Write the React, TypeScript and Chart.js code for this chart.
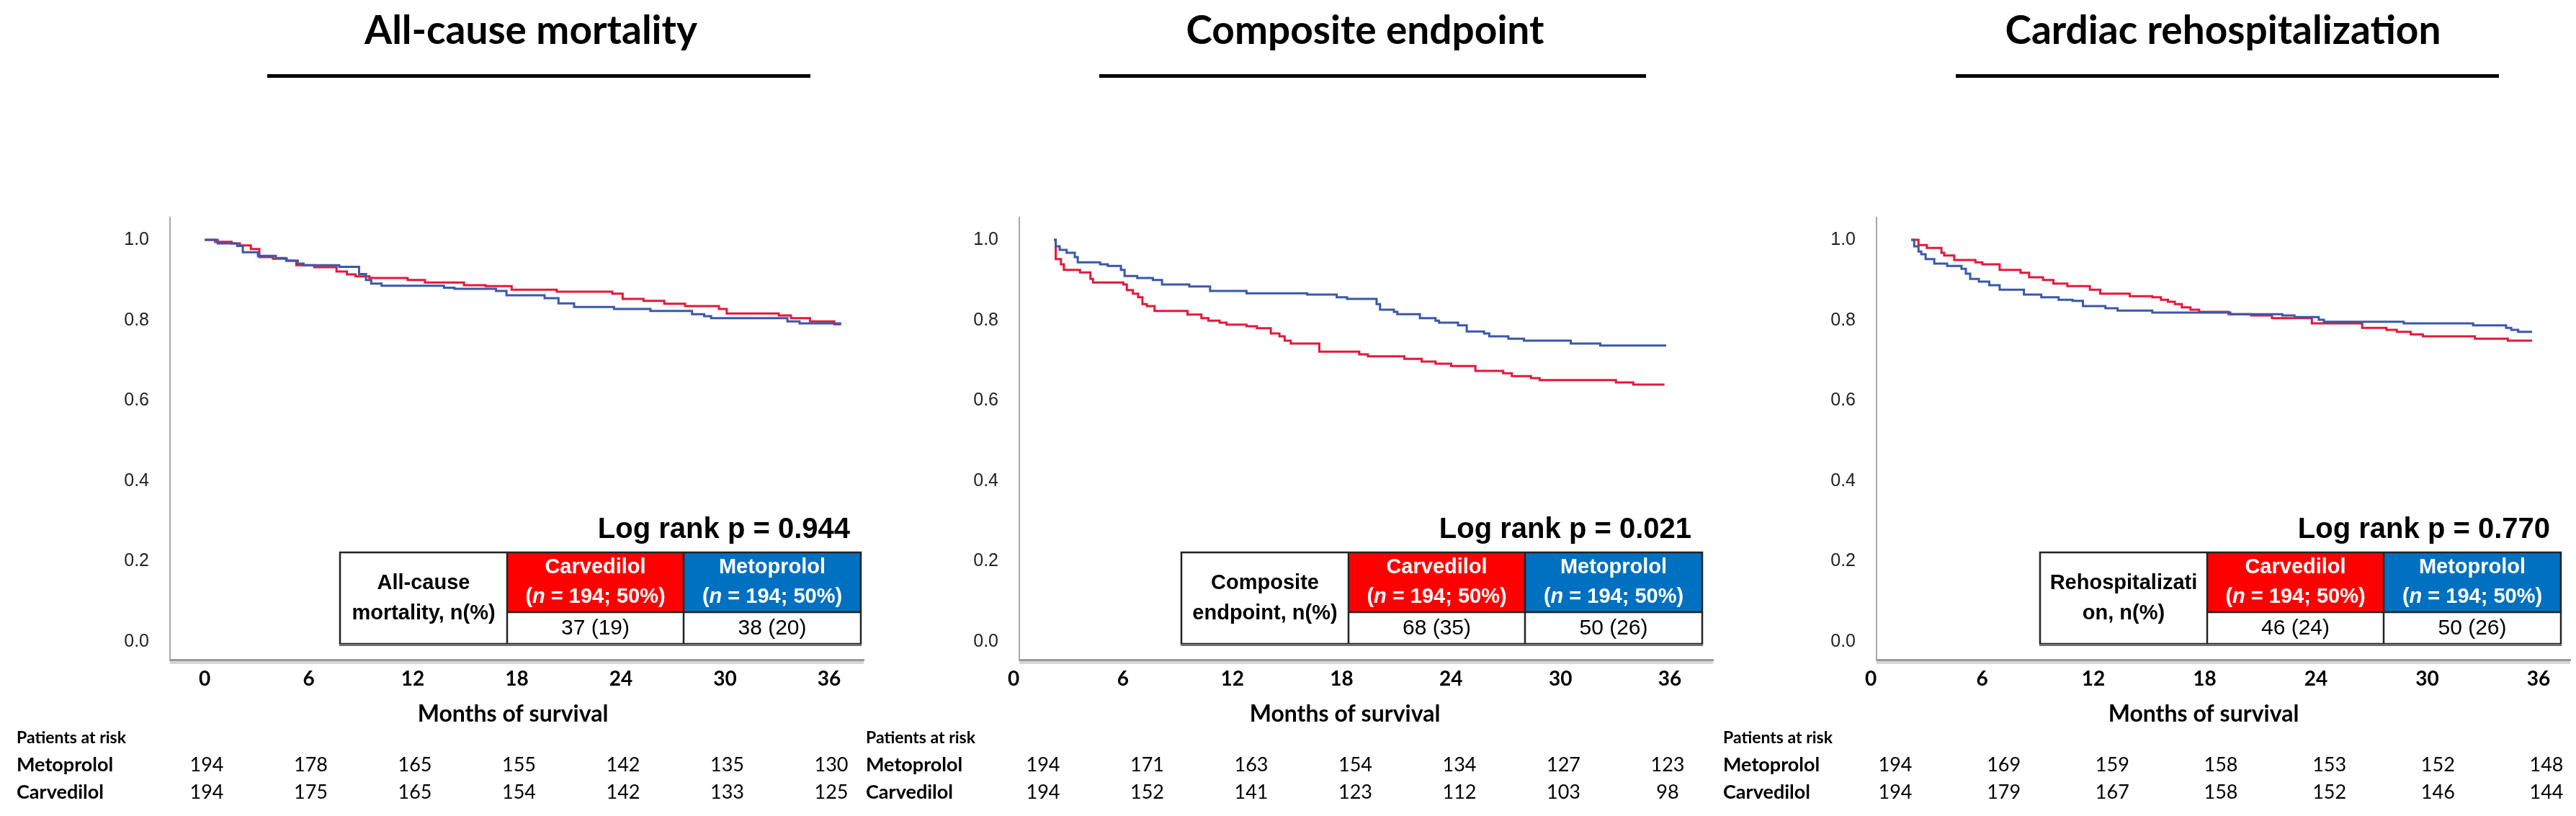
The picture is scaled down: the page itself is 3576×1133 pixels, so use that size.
import React, { useEffect, useRef } from "react";
import { Chart, registerables } from "chart.js";

Chart.register(...registerables);

// ---------- data ----------
const monthTicks = [0, 6, 12, 18, 24, 30, 36];
const survivalTicks = [0, 0.2, 0.4, 0.6, 0.8, 1.0];

const panelTitles = ["All-cause mortality", "Composite endpoint", "Cardiac rehospitalization"];
const tableLabels = [
  ["All-cause", "mortality, n(%)"],
  ["Composite", "endpoint, n(%)"],
  ["Rehospitalizati", "on, n(%)"],
];
const groupNames = ["Carvedilol", "Metoprolol"];
const groupSize = "194; 50%";
const carvedilolEvents = ["37 (19)", "68 (35)", "46 (24)"];
const metoprololEvents = ["38 (20)", "50 (26)", "50 (26)"];
const logRankP = ["0.944", "0.021", "0.770"];

// All-cause mortality
const mortCarvT = [0, 0.6, 1.55, 2.03, 2.66, 3.15, 3.94, 4.73, 5.28, 6.32, 7.6, 8.2, 8.7, 9.5, 11.7, 12.7, 14.95, 16.2, 17.7, 20.3, 23.5, 24.1, 25.3, 26.5, 27.7, 29.65, 30.1, 33.1, 33.8, 34.9, 36.3, 36.7];
const mortCarvS = [1.0, 0.995, 0.991, 0.986, 0.977, 0.957, 0.953, 0.948, 0.937, 0.932, 0.921, 0.914, 0.909, 0.905, 0.9, 0.894, 0.887, 0.885, 0.876, 0.871, 0.866, 0.853, 0.848, 0.841, 0.835, 0.828, 0.817, 0.812, 0.805, 0.797, 0.79, 0.79];
const mortMetoT = [0, 0.75, 1.87, 2.2, 3.07, 4.1, 4.7, 5.37, 5.7, 7.76, 8.9, 9.3, 9.6, 10.2, 13.8, 14.4, 16.8, 17.4, 19.6, 20.4, 21.3, 23.6, 25.7, 28.1, 28.8, 29.2, 33.6, 34.3, 36.7];
const mortMetoS = [1.0, 0.991, 0.985, 0.969, 0.96, 0.955, 0.948, 0.941, 0.937, 0.933, 0.915, 0.9, 0.891, 0.886, 0.881, 0.878, 0.873, 0.862, 0.855, 0.842, 0.833, 0.828, 0.823, 0.815, 0.81, 0.805, 0.797, 0.792, 0.792];

// Composite endpoint
const compCarvT = [0, 0.1, 0.4, 0.57, 1.5, 2.1, 2.25, 4.0, 4.2, 4.55, 4.85, 5.1, 5.35, 5.8, 7.7, 8.5, 8.9, 9.55, 9.95, 11.1, 11.7, 12.5, 13.0, 13.3, 13.65, 15.3, 17.6, 18.1, 20.2, 21.2, 22.0, 22.9, 24.3, 25.9, 26.4, 27.5, 28.0, 32.4, 33.4, 35.2];
const compCarvS = [1.0, 0.952, 0.939, 0.925, 0.919, 0.903, 0.894, 0.889, 0.875, 0.866, 0.857, 0.84, 0.835, 0.823, 0.814, 0.805, 0.799, 0.794, 0.789, 0.785, 0.78, 0.767, 0.76, 0.749, 0.742, 0.722, 0.715, 0.71, 0.704, 0.697, 0.692, 0.686, 0.674, 0.668, 0.661, 0.656, 0.651, 0.645, 0.64, 0.64];
const compMetoT = [0, 0.1, 0.33, 0.73, 1.2, 1.37, 2.66, 3.1, 3.86, 4.07, 4.8, 5.7, 6.23, 7.8, 9.0, 11.1, 14.6, 16.3, 16.9, 18.6, 18.8, 19.6, 19.8, 21.1, 22.0, 22.2, 23.3, 23.8, 24.8, 25.1, 26.2, 27.1, 29.8, 31.5, 35.3];
const compMetoS = [1.0, 0.984, 0.975, 0.968, 0.957, 0.944, 0.939, 0.935, 0.925, 0.91, 0.905, 0.9, 0.889, 0.884, 0.873, 0.867, 0.864, 0.857, 0.853, 0.84, 0.826, 0.821, 0.815, 0.805, 0.799, 0.794, 0.787, 0.772, 0.767, 0.76, 0.754, 0.749, 0.742, 0.737, 0.737];

// Cardiac rehospitalization
const rehoCarvT = [0, 0.42, 0.9, 1.74, 1.9, 2.48, 3.7, 4.1, 5.1, 6.3, 6.8, 7.6, 8.2, 9.0, 10.3, 10.9, 12.6, 13.9, 14.4, 14.8, 15.2, 15.6, 16.1, 16.6, 18.3, 19.6, 20.8, 23.1, 26.0, 27.4, 28.0, 28.8, 29.5, 32.5, 34.4, 35.8];
const rehoCarvS = [1.0, 0.987, 0.98, 0.968, 0.961, 0.95, 0.944, 0.939, 0.925, 0.918, 0.907, 0.9, 0.891, 0.885, 0.876, 0.866, 0.86, 0.857, 0.851, 0.846, 0.84, 0.832, 0.826, 0.821, 0.815, 0.812, 0.805, 0.792, 0.781, 0.776, 0.771, 0.765, 0.76, 0.754, 0.749, 0.749];
const rehoMetoT = [0, 0.17, 0.42, 0.58, 0.83, 1.33, 2.07, 2.9, 3.15, 3.4, 3.9, 4.5, 5.1, 6.5, 7.5, 8.5, 9.3, 9.9, 11.2, 11.9, 13.9, 18.4, 21.4, 22.1, 23.5, 23.8, 28.4, 32.4, 34.3, 34.6, 35.0, 35.8];
const rehoMetoS = [1.0, 0.984, 0.971, 0.964, 0.952, 0.941, 0.935, 0.928, 0.916, 0.903, 0.896, 0.887, 0.876, 0.864, 0.857, 0.851, 0.848, 0.835, 0.83, 0.824, 0.819, 0.815, 0.812, 0.808, 0.801, 0.796, 0.792, 0.787, 0.781, 0.776, 0.771, 0.771];

// Patients at risk
const mortRiskMeto = [194, 178, 165, 155, 142, 135, 130];
const mortRiskCarv = [194, 175, 165, 154, 142, 133, 125];
const compRiskMeto = [194, 171, 163, 154, 134, 127, 123];
const compRiskCarv = [194, 152, 141, 123, 112, 103, 98];
const rehoRiskMeto = [194, 169, 159, 158, 153, 152, 148];
const rehoRiskCarv = [194, 179, 167, 158, 152, 146, 144];

const curveT = [
  [mortMetoT, mortCarvT],
  [compMetoT, compCarvT],
  [rehoMetoT, rehoCarvT],
];
const curveS = [
  [mortMetoS, mortCarvS],
  [compMetoS, compCarvS],
  [rehoMetoS, rehoCarvS],
];
const riskMeto = [mortRiskMeto, compRiskMeto, rehoRiskMeto];
const riskCarv = [mortRiskCarv, compRiskCarv, rehoRiskCarv];

// ---------- layout / style ----------
const CANVAS_W = 1207;
const CANVAS_H = 1133;
const AREA_LEFT = 236;
const AREA_RIGHT = 1199;
const AREA_TOP = 302;
const AREA_BOTTOM = 916;
const PANEL_LEFT = [0, 1179, 2369];
const TITLE_X = [737, 716, 717];
const UNDERLINE = [
  [371, 1125],
  [347, 1106],
  [346, 1100],
];
const TABLE_LEFT = [472, 461, 463];
// pixel positions (panel-relative) of the 0 and 36 month labels / risk columns
const TICK_PX = [
  [284, 1151],
  [228, 1139],
  [228, 1155],
];
const RISK_PX = [
  [287, 1154],
  [269, 1136],
  [262, 1166],
];
const XTITLE_X = [712, 688, 690];

const RED_LINE = "rgb(228,24,58)";
const BLUE_LINE = "rgb(58,88,170)";
const RED_CELL = "#FF0000";
const BLUE_CELL = "#0070C0";
const ARIAL = '"Liberation Sans", Arial, sans-serif';
const CALIBRI = 'Lato, "Open Sans", sans-serif';

function rangeFor(p0: number, p36: number) {
  const ppm = (p36 - p0) / 36;
  return { min: (AREA_LEFT - p0) / ppm, max: (AREA_RIGHT - p0) / ppm };
}

function drawExtras(chart: any, idx: number) {
  const ctx: CanvasRenderingContext2D = chart.ctx;
  const xs = chart.scales.x;
  const xr = chart.scales.xr;
  const area = chart.chartArea;
  ctx.save();
  ctx.globalCompositeOperation = "source-over";
  ctx.globalAlpha = 1;

  // title + underline
  ctx.fillStyle = "#000";
  ctx.font = `bold 55px ${CALIBRI}`;
  ctx.textAlign = "center";
  ctx.textBaseline = "alphabetic";
  ctx.fillText(panelTitles[idx], TITLE_X[idx], 61);
  const [u0, u1] = UNDERLINE[idx];
  ctx.fillRect(u0, 103, u1 - u0, 5);

  // x-axis shadow
  ctx.fillStyle = "#d6d6d6";
  ctx.fillRect(area.left, area.bottom + 2, area.right - area.left, 4);

  // x-axis tick labels (positions from the month axis)
  ctx.fillStyle = "#000";
  ctx.font = `bold 28px ${CALIBRI}`;
  ctx.textAlign = "left";
  ctx.textBaseline = "middle";
  monthTicks.forEach((m) => {
    const label = String(m);
    const w = ctx.measureText(label).width;
    ctx.fillText(label, xs.getPixelForValue(m) - w / 2, 943);
  });

  // x-axis title
  ctx.textAlign = "center";
  ctx.font = `bold 32px ${CALIBRI}`;
  ctx.fillText("Months of survival", XTITLE_X[idx], 992);

  // table
  const L = TABLE_LEFT[idx];
  const c1 = L + 232;
  const c2 = c1 + 245;
  const R = c2 + 246;
  const T = 767;
  const M = 850;
  const B = 894;

  ctx.fillStyle = "#000";
  ctx.font = `bold 40px ${ARIAL}`;
  ctx.textAlign = "right";
  ctx.textBaseline = "alphabetic";
  ctx.fillText(`Log rank p = ${logRankP[idx]}`, R - 15, 747);

  ctx.fillStyle = "#fff";
  ctx.fillRect(L, T, R - L, B - T);
  ctx.fillStyle = RED_CELL;
  ctx.fillRect(c1, T, c2 - c1, M - T);
  ctx.fillStyle = BLUE_CELL;
  ctx.fillRect(c2, T, R - c2, M - T);

  ctx.strokeStyle = "#222";
  ctx.lineWidth = 2.5;
  ctx.strokeRect(L, T, R - L, B - T);
  ctx.beginPath();
  ctx.moveTo(c1, T);
  ctx.lineTo(c1, B);
  ctx.moveTo(c2, T);
  ctx.lineTo(c2, B);
  ctx.moveTo(c1, M);
  ctx.lineTo(R, M);
  ctx.stroke();
  ctx.fillStyle = "#707070";
  ctx.fillRect(L - 1, B, R - L + 2, 3);

  // label cell
  ctx.fillStyle = "#000";
  ctx.font = `bold 29px ${ARIAL}`;
  ctx.textAlign = "center";
  ctx.textBaseline = "middle";
  ctx.fillText(tableLabels[idx][0], (L + c1) / 2, 810);
  ctx.fillText(tableLabels[idx][1], (L + c1) / 2, 852);

  // header cells
  const heads = [
    [(c1 + c2) / 2, groupNames[0]],
    [(c2 + R) / 2, groupNames[1]],
  ] as [number, string][];
  heads.forEach(([cx, name]) => {
    ctx.fillStyle = "#fff";
    ctx.font = `bold 29px ${ARIAL}`;
    ctx.textAlign = "center";
    ctx.fillText(name, cx, 788);
    const parts: [string, string][] = [
      ["(", `bold 29px ${ARIAL}`],
      ["n", `italic bold 29px ${ARIAL}`],
      [` = ${groupSize})`, `bold 29px ${ARIAL}`],
    ];
    let total = 0;
    parts.forEach(([t, f]) => {
      ctx.font = f;
      total += ctx.measureText(t).width;
    });
    let x = cx - total / 2;
    ctx.textAlign = "left";
    parts.forEach(([t, f]) => {
      ctx.font = f;
      ctx.fillText(t, x, 829);
      x += ctx.measureText(t).width;
    });
  });

  // values
  ctx.fillStyle = "#000";
  ctx.font = `30px ${ARIAL}`;
  ctx.textAlign = "center";
  ctx.fillText(carvedilolEvents[idx], (c1 + c2) / 2, 873);
  ctx.fillText(metoprololEvents[idx], (c2 + R) / 2, 873);

  // patients at risk
  ctx.textAlign = "left";
  ctx.font = `bold 23px ${CALIBRI}`;
  ctx.fillText("Patients at risk", 23, 1025);
  ctx.font = `bold 27px ${CALIBRI}`;
  ctx.fillText("Metoprolol", 23, 1062);
  ctx.fillText("Carvedilol", 23, 1100);
  ctx.font = `27px ${CALIBRI}`;
  ctx.textAlign = "center";
  monthTicks.forEach((m, i) => {
    const x = xr.getPixelForValue(m);
    ctx.fillText(String(riskMeto[idx][i]), x, 1062);
    ctx.fillText(String(riskCarv[idx][i]), x, 1100);
  });

  ctx.restore();
}

function KMPanel({ idx }: { idx: number }) {
  const ref = useRef<HTMLCanvasElement | null>(null);

  useEffect(() => {
    if (!ref.current) return;
    const [tMeto, tCarv] = curveT[idx];
    const [sMeto, sCarv] = curveS[idx];
    const tickRange = rangeFor(TICK_PX[idx][0], TICK_PX[idx][1]);
    const riskRange = rangeFor(RISK_PX[idx][0], RISK_PX[idx][1]);
    const chart = new Chart(ref.current, {
      type: "line",
      data: {
        datasets: [
          {
            label: "Metoprolol",
            data: tMeto.map((t, i) => ({ x: t, y: sMeto[i] })),
            borderColor: BLUE_LINE,
            borderWidth: 3,
            pointRadius: 0,
            stepped: "before",
            fill: false,
            xAxisID: "xd",
            yAxisID: "y",
          },
          {
            label: "Carvedilol",
            data: tCarv.map((t, i) => ({ x: t, y: sCarv[i] })),
            borderColor: RED_LINE,
            borderWidth: 3,
            pointRadius: 0,
            stepped: "before",
            fill: false,
            xAxisID: "xd",
            yAxisID: "y",
          },
        ],
      },
      options: {
        animation: false,
        responsive: false,
        maintainAspectRatio: false,
        devicePixelRatio: 1,
        events: [],
        layout: {
          padding: { left: 0, top: AREA_TOP, right: CANVAS_W - AREA_RIGHT, bottom: CANVAS_H - AREA_BOTTOM - 94 },
        },
        plugins: {
          legend: { display: false },
          tooltip: { enabled: false },
          title: { display: false },
        },
        scales: {
          x: {
            type: "linear",
            position: "bottom",
            min: tickRange.min,
            max: tickRange.max,
            afterBuildTicks: (s: any) => {
              s.ticks = monthTicks.map((v) => ({ value: v }));
            },
            afterFit: (s: any) => {
              s.height = 94;
            },
            grid: { display: false, drawTicks: false },
            border: { display: true, color: "#9a9a9a", width: 3 },
            ticks: { display: false },
            title: { display: false },
          },
          xd: {
            type: "linear",
            position: "bottom",
            display: false,
            min: -2,
            max: 38,
          },
          xr: {
            type: "linear",
            position: "bottom",
            display: false,
            min: riskRange.min,
            max: riskRange.max,
          },
          y: {
            type: "linear",
            min: -0.0448,
            max: 1.0556,
            afterBuildTicks: (s: any) => {
              s.ticks = survivalTicks.map((v) => ({ value: v }));
            },
            afterFit: (s: any) => {
              s.width = AREA_LEFT;
            },
            grid: { display: false, drawTicks: false },
            border: { display: true, color: "#a8a8a8", width: 2 },
            ticks: {
              padding: 29,
              color: "#222",
              font: { family: ARIAL, size: 25 },
              callback: (v: any) => Number(v).toFixed(1),
            },
          },
        },
      },
      plugins: [
        {
          id: "kmExtras",
          afterDraw: (c: any) => drawExtras(c, idx),
        },
      ],
    } as any);
    return () => chart.destroy();
  }, [idx]);

  return (
    <canvas
      ref={ref}
      width={CANVAS_W}
      height={CANVAS_H}
      style={{
        position: "absolute",
        left: PANEL_LEFT[idx],
        top: 0,
        width: CANVAS_W,
        height: CANVAS_H,
        zIndex: idx + 1,
      }}
    />
  );
}

export default function App() {
  return (
    <div
      style={{
        position: "absolute",
        left: 0,
        top: 0,
        width: 3576,
        height: 1133,
        background: "#fff",
        overflow: "hidden",
      }}
    >
      {[0, 1, 2].map((i) => (
        <KMPanel key={i} idx={i} />
      ))}
    </div>
  );
}
